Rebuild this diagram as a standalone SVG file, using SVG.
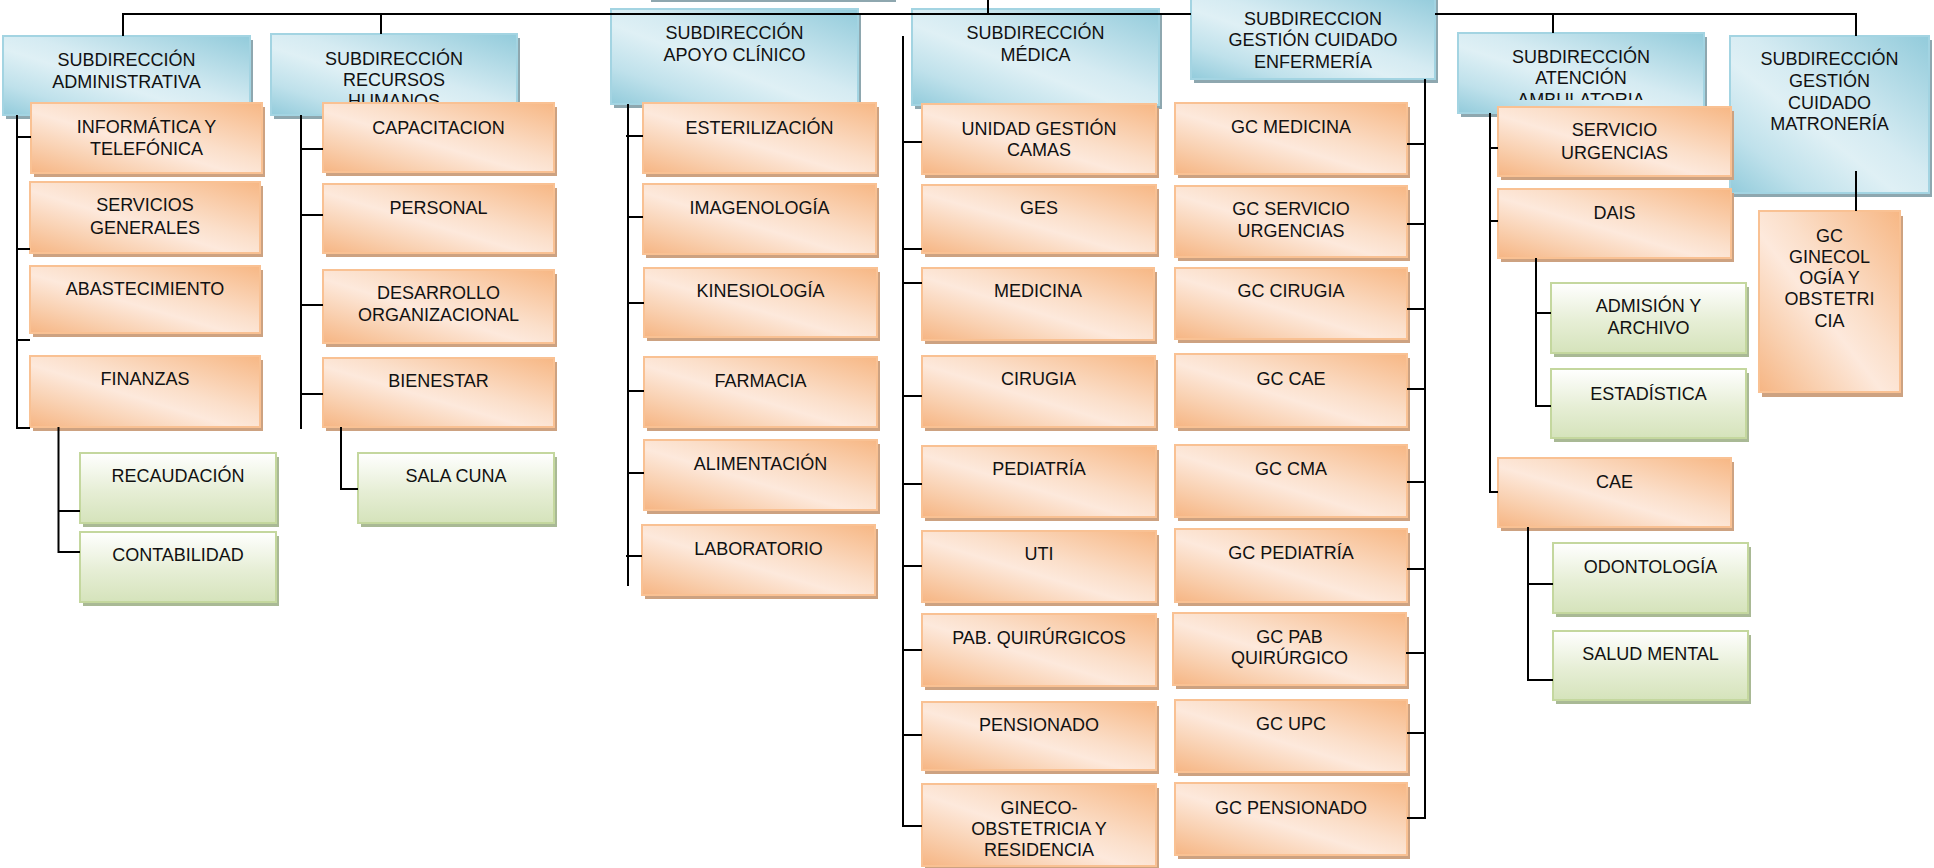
<svg xmlns="http://www.w3.org/2000/svg" width="1934" height="868" viewBox="0 0 1934 868">
<defs>
<linearGradient id="gOr" x1="1" y1="0" x2="0" y2="1">
<stop offset="0" stop-color="#f7b784"/>
<stop offset="0.42" stop-color="#fbdfca"/>
<stop offset="0.56" stop-color="#fde9dc"/>
<stop offset="0.78" stop-color="#f9d0b0"/>
<stop offset="1" stop-color="#f6b583"/>
</linearGradient>
<linearGradient id="gBl" x1="1" y1="0" x2="0" y2="1">
<stop offset="0" stop-color="#92cbdb"/>
<stop offset="0.45" stop-color="#d5ebf2"/>
<stop offset="0.58" stop-color="#dff0f5"/>
<stop offset="0.8" stop-color="#bfe1eb"/>
<stop offset="1" stop-color="#92cbdb"/>
</linearGradient>
<linearGradient id="gGr" x1="0" y1="0" x2="0" y2="1">
<stop offset="0" stop-color="#ffffff"/>
<stop offset="0.55" stop-color="#e6eed5"/>
<stop offset="1" stop-color="#d5e3bb"/>
</linearGradient>
<clipPath id="clipAmb"><rect x="1458" y="33" width="246" height="67"/></clipPath>
</defs>
<style>
text{font-family:"Liberation Sans",Arial,sans-serif;font-size:18px;fill:#111;text-anchor:middle}
.or .sh{fill:#cda281}
.or .bx{fill:url(#gOr);stroke:#f9c193;stroke-width:2}
.bl .sh{fill:#8ea7af}
.bl .bx{fill:url(#gBl);stroke:#a3d4e2;stroke-width:2}
.gr .sh{fill:#a9b995}
.gr .bx{fill:url(#gGr);stroke:#c4d79e;stroke-width:2}
#conn line{stroke:#000;stroke-width:2;fill:none}
</style>
<rect width="1934" height="868" fill="#fff"/>

<!-- header nodes -->
<g id="n-direccion" class="bl"><rect class="sh" x="651" y="-59" width="245" height="61"/><rect class="bx" x="648" y="-62" width="245" height="61"/></g>
<g id="n-sub-admin" class="bl"><rect class="sh" x="6" y="40" width="247" height="79"/><rect class="bx" x="3" y="36" width="247" height="79"/><text x="126.5" y="65.5">SUBDIRECCIÓN</text><text x="126.5" y="87.5">ADMINISTRATIVA</text></g>
<g id="n-sub-rrhh" class="bl"><rect class="sh" x="274" y="38" width="246" height="81"/><rect class="bx" x="271" y="34" width="246" height="81"/><text x="394" y="64.5">SUBDIRECCIÓN</text><text x="394" y="85.5">RECURSOS</text><text x="394" y="106.5">HUMANOS</text></g>
<g id="n-sub-apoyo" class="bl"><rect class="sh" x="614" y="13" width="247" height="95"/><rect class="bx" x="611" y="9" width="247" height="95"/><text x="734.5" y="38.5">SUBDIRECCIÓN</text><text x="734.5" y="60.5">APOYO CLÍNICO</text></g>
<g id="n-sub-medica" class="bl"><rect class="sh" x="915" y="13" width="247" height="96"/><rect class="bx" x="912" y="9" width="247" height="96"/><text x="1035.5" y="38.5">SUBDIRECCIÓN</text><text x="1035.5" y="60.5">MÉDICA</text></g>
<g id="n-sub-enfermeria" class="bl"><rect class="sh" x="1194" y="0" width="244" height="83"/><rect class="bx" x="1191" y="-4" width="244" height="83"/><text x="1313" y="24.5">SUBDIRECCION</text><text x="1313" y="45.5">GESTIÓN CUIDADO</text><text x="1313" y="67.5">ENFERMERÍA</text></g>
<g id="n-sub-atencion" class="bl"><rect class="sh" x="1461" y="37" width="246" height="80"/><rect class="bx" x="1458" y="33" width="246" height="80"/><text x="1581" y="62.5">SUBDIRECCIÓN</text><text x="1581" y="83.5">ATENCIÓN</text><text x="1581" y="105.5" clip-path="url(#clipAmb)">AMBULATORIA</text></g>
<g id="n-sub-matroneria" class="bl"><rect class="sh" x="1733" y="40" width="199" height="157"/><rect class="bx" x="1730" y="36" width="199" height="157"/><text x="1829.5" y="64.5">SUBDIRECCIÓN</text><text x="1829.5" y="86.5">GESTIÓN</text><text x="1829.5" y="108.5">CUIDADO</text><text x="1829.5" y="129.5">MATRONERÍA</text></g>

<!-- administrativa -->
<g id="n-informatica" class="or"><rect class="sh" x="34" y="107" width="231" height="70"/><rect class="bx" x="31" y="103" width="231" height="70"/><text x="146.5" y="132.5">INFORMÁTICA Y</text><text x="146.5" y="154.5">TELEFÓNICA</text></g>
<g id="n-servicios" class="or"><rect class="sh" x="33" y="186" width="230" height="71"/><rect class="bx" x="30" y="182" width="230" height="71"/><text x="145" y="210.5">SERVICIOS</text><text x="145" y="233.5">GENERALES</text></g>
<g id="n-abastecimiento" class="or"><rect class="sh" x="33" y="270" width="230" height="67"/><rect class="bx" x="30" y="266" width="230" height="67"/><text x="145" y="294.5">ABASTECIMIENTO</text></g>
<g id="n-finanzas" class="or"><rect class="sh" x="33" y="360" width="230" height="71"/><rect class="bx" x="30" y="356" width="230" height="71"/><text x="145" y="384.5">FINANZAS</text></g>
<g id="n-recaudacion" class="gr"><rect class="sh" x="83" y="457" width="196" height="70"/><rect class="bx" x="80" y="453" width="196" height="70"/><text x="178" y="481.5">RECAUDACIÓN</text></g>
<g id="n-contabilidad" class="gr"><rect class="sh" x="83" y="536" width="196" height="70"/><rect class="bx" x="80" y="532" width="196" height="70"/><text x="178" y="560.5">CONTABILIDAD</text></g>

<!-- recursos humanos -->
<g id="n-capacitacion" class="or"><rect class="sh" x="326" y="107" width="231" height="69"/><rect class="bx" x="323" y="103" width="231" height="69"/><text x="438.5" y="133.5">CAPACITACION</text></g>
<g id="n-personal" class="or"><rect class="sh" x="326" y="188" width="231" height="69"/><rect class="bx" x="323" y="184" width="231" height="69"/><text x="438.5" y="213.5">PERSONAL</text></g>
<g id="n-desarrollo" class="or"><rect class="sh" x="326" y="274" width="231" height="73"/><rect class="bx" x="323" y="270" width="231" height="73"/><text x="438.5" y="298.5">DESARROLLO</text><text x="438.5" y="320.5">ORGANIZACIONAL</text></g>
<g id="n-bienestar" class="or"><rect class="sh" x="326" y="362" width="231" height="69"/><rect class="bx" x="323" y="358" width="231" height="69"/><text x="438.5" y="386.5">BIENESTAR</text></g>
<g id="n-salacuna" class="gr"><rect class="sh" x="361" y="457" width="196" height="70"/><rect class="bx" x="358" y="453" width="196" height="70"/><text x="456" y="481.5">SALA CUNA</text></g>

<!-- apoyo clinico -->
<g id="n-esterilizacion" class="or"><rect class="sh" x="646" y="107" width="233" height="70"/><rect class="bx" x="643" y="103" width="233" height="70"/><text x="759.5" y="133.5">ESTERILIZACIÓN</text></g>
<g id="n-imagenologia" class="or"><rect class="sh" x="646" y="188" width="233" height="70"/><rect class="bx" x="643" y="184" width="233" height="70"/><text x="759.5" y="213.5">IMAGENOLOGÍA</text></g>
<g id="n-kinesiologia" class="or"><rect class="sh" x="647" y="272" width="233" height="69"/><rect class="bx" x="644" y="268" width="233" height="69"/><text x="760.5" y="296.5">KINESIOLOGÍA</text></g>
<g id="n-farmacia" class="or"><rect class="sh" x="647" y="361" width="233" height="70"/><rect class="bx" x="644" y="357" width="233" height="70"/><text x="760.5" y="386.5">FARMACIA</text></g>
<g id="n-alimentacion" class="or"><rect class="sh" x="647" y="444" width="233" height="70"/><rect class="bx" x="644" y="440" width="233" height="70"/><text x="760.5" y="469.5">ALIMENTACIÓN</text></g>
<g id="n-laboratorio" class="or"><rect class="sh" x="645" y="529" width="233" height="70"/><rect class="bx" x="642" y="525" width="233" height="70"/><text x="758.5" y="554.5">LABORATORIO</text></g>

<!-- medica -->
<g id="n-unidad-camas" class="or"><rect class="sh" x="925" y="108" width="234" height="70"/><rect class="bx" x="922" y="104" width="234" height="70"/><text x="1039" y="134.5">UNIDAD GESTIÓN</text><text x="1039" y="155.5">CAMAS</text></g>
<g id="n-ges" class="or"><rect class="sh" x="925" y="189" width="234" height="68"/><rect class="bx" x="922" y="185" width="234" height="68"/><text x="1039" y="213.5">GES</text></g>
<g id="n-medicina" class="or"><rect class="sh" x="925" y="272" width="232" height="72"/><rect class="bx" x="922" y="268" width="232" height="72"/><text x="1038" y="296.5">MEDICINA</text></g>
<g id="n-cirugia" class="or"><rect class="sh" x="925" y="360" width="233" height="71"/><rect class="bx" x="922" y="356" width="233" height="71"/><text x="1038.5" y="384.5">CIRUGIA</text></g>
<g id="n-pediatria" class="or"><rect class="sh" x="925" y="450" width="234" height="71"/><rect class="bx" x="922" y="446" width="234" height="71"/><text x="1039" y="474.5">PEDIATRÍA</text></g>
<g id="n-uti" class="or"><rect class="sh" x="925" y="535" width="234" height="71"/><rect class="bx" x="922" y="531" width="234" height="71"/><text x="1039" y="559.5">UTI</text></g>
<g id="n-pabellones" class="or"><rect class="sh" x="925" y="618" width="234" height="72"/><rect class="bx" x="922" y="614" width="234" height="72"/><text x="1039" y="643.5">PAB. QUIRÚRGICOS</text></g>
<g id="n-pensionado" class="or"><rect class="sh" x="925" y="706" width="234" height="68"/><rect class="bx" x="922" y="702" width="234" height="68"/><text x="1039" y="730.5">PENSIONADO</text></g>
<g id="n-gineco" class="or"><rect class="sh" x="925" y="788" width="234" height="82"/><rect class="bx" x="922" y="784" width="234" height="82"/><text x="1039" y="813.5">GINECO-</text><text x="1039" y="834.5">OBSTETRICIA Y</text><text x="1039" y="855.5">RESIDENCIA</text></g>

<!-- enfermeria -->
<g id="n-gc-medicina" class="or"><rect class="sh" x="1178" y="107" width="232" height="71"/><rect class="bx" x="1175" y="103" width="232" height="71"/><text x="1291" y="132.5">GC MEDICINA</text></g>
<g id="n-gc-urgencias" class="or"><rect class="sh" x="1178" y="190" width="232" height="71"/><rect class="bx" x="1175" y="186" width="232" height="71"/><text x="1291" y="214.5">GC SERVICIO</text><text x="1291" y="236.5">URGENCIAS</text></g>
<g id="n-gc-cirugia" class="or"><rect class="sh" x="1178" y="272" width="232" height="71"/><rect class="bx" x="1175" y="268" width="232" height="71"/><text x="1291" y="296.5">GC CIRUGIA</text></g>
<g id="n-gc-cae" class="or"><rect class="sh" x="1178" y="358" width="232" height="73"/><rect class="bx" x="1175" y="354" width="232" height="73"/><text x="1291" y="384.5">GC CAE</text></g>
<g id="n-gc-cma" class="or"><rect class="sh" x="1178" y="449" width="232" height="72"/><rect class="bx" x="1175" y="445" width="232" height="72"/><text x="1291" y="474.5">GC CMA</text></g>
<g id="n-gc-pediatria" class="or"><rect class="sh" x="1178" y="533" width="232" height="73"/><rect class="bx" x="1175" y="529" width="232" height="73"/><text x="1291" y="558.5">GC PEDIATRÍA</text></g>
<g id="n-gc-pab" class="or"><rect class="sh" x="1176" y="617" width="233" height="72"/><rect class="bx" x="1173" y="613" width="233" height="72"/><text x="1289.5" y="642.5">GC PAB</text><text x="1289.5" y="663.5">QUIRÚRGICO</text></g>
<g id="n-gc-upc" class="or"><rect class="sh" x="1178" y="704" width="232" height="72"/><rect class="bx" x="1175" y="700" width="232" height="72"/><text x="1291" y="729.5">GC UPC</text></g>
<g id="n-gc-pensionado" class="or"><rect class="sh" x="1178" y="787" width="232" height="72"/><rect class="bx" x="1175" y="783" width="232" height="72"/><text x="1291" y="813.5">GC PENSIONADO</text></g>

<!-- atencion ambulatoria -->
<g id="n-serv-urgencias" class="or"><rect class="sh" x="1501" y="111" width="233" height="69"/><rect class="bx" x="1498" y="107" width="233" height="69"/><text x="1614.5" y="135.5">SERVICIO</text><text x="1614.5" y="158.5">URGENCIAS</text></g>
<g id="n-dais" class="or"><rect class="sh" x="1501" y="193" width="233" height="69"/><rect class="bx" x="1498" y="189" width="233" height="69"/><text x="1614.5" y="218.5">DAIS</text></g>
<g id="n-admision" class="gr"><rect class="sh" x="1554" y="287" width="195" height="70"/><rect class="bx" x="1551" y="283" width="195" height="70"/><text x="1648.5" y="311.5">ADMISIÓN Y</text><text x="1648.5" y="333.5">ARCHIVO</text></g>
<g id="n-estadistica" class="gr"><rect class="sh" x="1554" y="373" width="195" height="69"/><rect class="bx" x="1551" y="369" width="195" height="69"/><text x="1648.5" y="399.5">ESTADÍSTICA</text></g>
<g id="n-cae" class="or"><rect class="sh" x="1501" y="462" width="233" height="69"/><rect class="bx" x="1498" y="458" width="233" height="69"/><text x="1614.5" y="487.5">CAE</text></g>
<g id="n-odontologia" class="gr"><rect class="sh" x="1556" y="547" width="195" height="70"/><rect class="bx" x="1553" y="543" width="195" height="70"/><text x="1650.5" y="572.5">ODONTOLOGÍA</text></g>
<g id="n-salud-mental" class="gr"><rect class="sh" x="1556" y="635" width="195" height="69"/><rect class="bx" x="1553" y="631" width="195" height="69"/><text x="1650.5" y="659.5">SALUD MENTAL</text></g>

<!-- matroneria -->
<g id="n-gc-ginecologia" class="or"><rect class="sh" x="1762" y="216" width="141" height="181"/><rect class="bx" x="1759" y="211" width="141" height="181"/><text x="1829.5" y="241.5">GC</text><text x="1829.5" y="262.5">GINECOL</text><text x="1829.5" y="283.5">OGÍA Y</text><text x="1829.5" y="304.5">OBSTETRI</text><text x="1829.5" y="326.5">CIA</text></g>

<!-- connectors -->
<g id="conn">
<line x1="123" y1="14" x2="1191" y2="14"/>
<line x1="1435" y1="14" x2="1857" y2="14"/>
<line x1="988" y1="0" x2="988" y2="14"/>
<line x1="123" y1="13" x2="123" y2="36"/>
<line x1="381" y1="13" x2="381" y2="34"/>
<line x1="1553" y1="13" x2="1553" y2="33"/>
<line x1="1856" y1="13" x2="1856" y2="36"/>

<line x1="17" y1="115" x2="17" y2="429"/>
<line x1="16" y1="137" x2="31" y2="137"/>
<line x1="16" y1="249" x2="30" y2="249"/>
<line x1="16" y1="340" x2="30" y2="340"/>
<line x1="16" y1="428" x2="30" y2="428"/>
<line x1="58.5" y1="427" x2="58.5" y2="553"/>
<line x1="58" y1="511" x2="80" y2="511"/>
<line x1="58" y1="552" x2="80" y2="552"/>

<line x1="301" y1="115" x2="301" y2="429"/>
<line x1="300" y1="149" x2="323" y2="149"/>
<line x1="300" y1="215" x2="323" y2="215"/>
<line x1="300" y1="305" x2="323" y2="305"/>
<line x1="300" y1="394" x2="323" y2="394"/>
<line x1="341" y1="427" x2="341" y2="490"/>
<line x1="340" y1="489" x2="358" y2="489"/>

<line x1="628" y1="104" x2="628" y2="586"/>
<line x1="626" y1="136" x2="643" y2="136"/>
<line x1="627" y1="217" x2="643" y2="217"/>
<line x1="627" y1="303" x2="644" y2="303"/>
<line x1="627" y1="391" x2="644" y2="391"/>
<line x1="627" y1="473" x2="644" y2="473"/>
<line x1="626" y1="556" x2="642" y2="556"/>

<line x1="903" y1="36" x2="903" y2="827"/>
<line x1="902" y1="142" x2="922" y2="142"/>
<line x1="902" y1="249" x2="922" y2="249"/>
<line x1="902" y1="283" x2="922" y2="283"/>
<line x1="902" y1="396" x2="922" y2="396"/>
<line x1="902" y1="484" x2="922" y2="484"/>
<line x1="902" y1="566" x2="922" y2="566"/>
<line x1="902" y1="650" x2="922" y2="650"/>
<line x1="902" y1="735" x2="922" y2="735"/>
<line x1="902" y1="826" x2="922" y2="826"/>

<line x1="1425" y1="79" x2="1425" y2="819"/>
<line x1="1407" y1="144" x2="1426" y2="144"/>
<line x1="1407" y1="224" x2="1426" y2="224"/>
<line x1="1407" y1="309" x2="1426" y2="309"/>
<line x1="1407" y1="389" x2="1426" y2="389"/>
<line x1="1407" y1="482" x2="1426" y2="482"/>
<line x1="1407" y1="569" x2="1426" y2="569"/>
<line x1="1406" y1="653" x2="1426" y2="653"/>
<line x1="1407" y1="733" x2="1426" y2="733"/>
<line x1="1407" y1="818" x2="1426" y2="818"/>

<line x1="1490" y1="113" x2="1490" y2="493"/>
<line x1="1489" y1="148" x2="1498" y2="148"/>
<line x1="1489" y1="221" x2="1498" y2="221"/>
<line x1="1489" y1="492" x2="1498" y2="492"/>
<line x1="1536" y1="258" x2="1536" y2="407"/>
<line x1="1535" y1="313" x2="1551" y2="313"/>
<line x1="1535" y1="406" x2="1551" y2="406"/>
<line x1="1528" y1="527" x2="1528" y2="681"/>
<line x1="1527" y1="584" x2="1553" y2="584"/>
<line x1="1527" y1="680" x2="1553" y2="680"/>

<line x1="1856" y1="171" x2="1856" y2="211"/>
</g>
</svg>
